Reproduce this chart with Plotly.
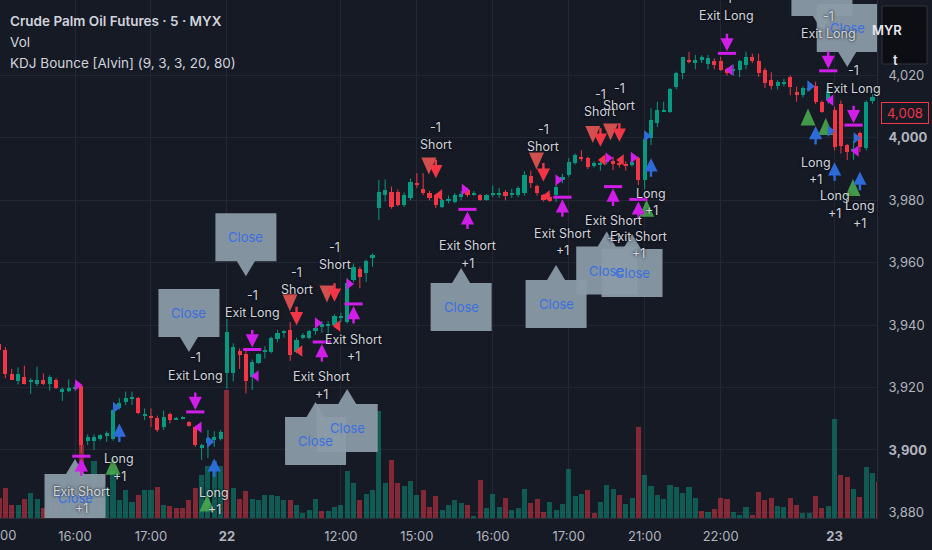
import plotly.graph_objects as go

# ---------------- data ----------------
opens = [3934, 3932, 3924.5, 3922, 3923.5, 3922, 3921, 3922.5, 3921, 3922.5,
         3918.7, 3918.8, 3919.8, 3920.5, 3903, 3903, 3903.5, 3904.5, 3903.5, 3913.5,
         3915.5, 3916.5, 3916.5, 3911, 3911, 3910.4, 3907.4, 3911.4, 3909.8, 3910,
         3909, 3907.4, 3900.6, 3902.1, 3903.5, 3903.4, 3924.6, 3924.6, 3931.7, 3930.7,
         3923.5, 3927.8, 3931.5, 3931.5, 3935.5, 3937.5, 3938.4, 3931.5, 3935.8, 3935.8,
         3938, 3939.5, 3940, 3940, 3942.5, 3941.1, 3954.5, 3957.9, 3956.6, 3961.4,
         3977.4, 3981.7, 3982.8, 3982.8, 3978.5, 3980.6, 3985.5, 3983.5, 3982.4, 3981.7,
         3978, 3980, 3979.6, 3981, 3983.3, 3981.8, 3981.7, 3980, 3981.8, 3981.8,
         3982.8, 3981.8, 3981.7, 3982.2, 3987.8, 3984.6, 3981.7, 3981, 3981.7, 3986.5,
         3988.1, 3991.9, 3994, 3993.5, 3991, 3991.5, 3992.3, 3992.5, 3992, 3991.8,
         3991.3, 3993.5, 3986.5, 4000, 4004.7, 4008.6, 4008.4, 4016.4, 4020.7, 4025,
         4024, 4025, 4023.7, 4024.8, 4024.7, 4022, 4021.5, 4021.8, 4023.4, 4025.8,
         4024.7, 4021.8, 4018.6, 4016.6, 4017.5, 4019.6, 4014.8, 4013.7, 4015.5, 4016.6,
         4011.6, 4012, 4009, 4011, 3997.7, 3996, 4001.5, 3996.7, 4011.9, 4013.2]
highs = [3935, 3933, 3926, 3926.5, 3927, 3923, 3926.7, 3924.5, 3924, 3923,
         3920, 3922.6, 3921, 3921, 3905, 3905, 3905, 3906, 3913, 3916.6,
         3918.7, 3918.7, 3917, 3913.3, 3913.3, 3911, 3912.6, 3912, 3910.6, 3910.8,
         3909.2, 3907.8, 3902, 3906.4, 3906, 3906.4, 3942, 3934.2, 3932.5, 3932,
         3929, 3931, 3933.2, 3936.3, 3938.5, 3938.5, 3941, 3936, 3937.5, 3938.5,
         3940, 3941.3, 3941.3, 3943.5, 3944, 3955, 3959.8, 3958.7, 3961, 3963,
         3986.5, 3986.7, 3984.4, 3983.5, 3982.5, 3987, 3988.7, 3988.7, 3983, 3982,
         3980.5, 3981.5, 3982.3, 3983, 3984, 3983, 3982, 3982, 3984.7, 3984,
         3983.3, 3983.7, 3984.5, 3989.3, 3989.5, 3985, 3982, 3982, 3985, 3988.5,
         3993.5, 3995, 3996, 3994, 3992.5, 3993, 3994, 3994, 3993, 3992.5,
         3993, 3994, 4000.5, 4009.5, 4011.6, 4011.6, 4016, 4021.2, 4026, 4027.6,
         4026.6, 4026.5, 4026.6, 4025.5, 4026, 4022.5, 4023.5, 4025, 4027.6, 4027,
         4027, 4022.5, 4021, 4018.5, 4019, 4020, 4016.4, 4016.5, 4017, 4018,
         4012, 4017, 4010, 4012, 3998, 3999, 4002, 4012, 4014, 4013.5]
lows = [3931, 3923, 3922.5, 3921, 3921, 3918, 3920.5, 3920.8, 3919, 3919.5,
        3915.7, 3918.5, 3919, 3899, 3901.6, 3900, 3903, 3902.6, 3903, 3913,
        3914.4, 3914.4, 3911.5, 3909.6, 3907.4, 3905.8, 3906.4, 3908.5, 3909.6, 3909.8,
        3907.5, 3901, 3896.8, 3897.4, 3901, 3903, 3919.7, 3922, 3926, 3918.1,
        3919.2, 3927.5, 3929.3, 3931, 3934.5, 3936, 3928.5, 3931, 3935.5, 3935.5,
        3937, 3937.6, 3936.5, 3939.5, 3941, 3940.5, 3953.9, 3951.8, 3953.9, 3958.7,
        3973.7, 3979.6, 3977.3, 3978, 3977.9, 3980, 3984, 3981.7, 3980, 3977.5,
        3977.5, 3979, 3979, 3980, 3981, 3981.5, 3979.8, 3979.8, 3981, 3980.8,
        3980, 3980.8, 3981, 3981.5, 3984, 3981.5, 3979.6, 3979.5, 3979.5, 3985.5,
        3987.5, 3991.5, 3992.5, 3990, 3990.5, 3989.5, 3991.5, 3989.7, 3990.5, 3989.5,
        3990.8, 3984.9, 3983.5, 3997.7, 4003.5, 4008.3, 4008, 4015.6, 4018.8, 4023.9,
        4022, 4024, 4022, 4022, 4021.5, 4020, 4020, 4019.5, 4022, 4024,
        4019.6, 4016, 4015.5, 4015.5, 4016.5, 4013.7, 4011.6, 4013, 4015, 4010.8,
        4008, 4011, 3996, 3995, 3992.9, 3993, 3995.5, 3996, 4011, 4007]
closes = [3932, 3924.5, 3922.5, 3924.5, 3921, 3922.5, 3922.5, 3921, 3923.5, 3919.8,
          3919.7, 3919.8, 3920, 3901.5, 3904, 3904, 3904.7, 3905.5, 3912.8, 3915,
          3916.5, 3917, 3911.7, 3911.5, 3910.4, 3906.4, 3910.6, 3909.6, 3910.4, 3910.5,
          3907.7, 3901.6, 3901.5, 3903.7, 3904, 3905.8, 3937.9, 3933.1, 3930.4, 3922,
          3928.3, 3930.7, 3932, 3936, 3937.6, 3938, 3930.4, 3935.4, 3936.8, 3938,
          3939, 3940.3, 3940.5, 3942.9, 3943, 3953.4, 3958.7, 3955.5, 3960.6, 3962.5,
          3982.8, 3983.3, 3977.9, 3978.5, 3981.7, 3986, 3985, 3982.2, 3980.6, 3978.5,
          3980, 3980.5, 3981.7, 3982, 3981.7, 3982.3, 3980, 3981.7, 3982.5, 3982.3,
          3981.4, 3982.3, 3983.8, 3988.1, 3985.4, 3982.2, 3980, 3979.8, 3984.4, 3987.6,
          3992.4, 3994.5, 3993.5, 3990.6, 3991.9, 3992, 3992.8, 3991.5, 3991.3, 3991,
          3992.3, 3986.5, 3999.5, 4005.7, 4008.9, 4009, 4015.6, 4020.9, 4025.8, 4024.5,
          4025, 4025.8, 4025.5, 4023.5, 4021.8, 4020.7, 4022, 4024.7, 4025.8, 4024.7,
          4020.7, 4017.5, 4016.6, 4018, 4018, 4016.4, 4013.7, 4015.9, 4016, 4011.6,
          4008.4, 4015, 3997, 3997.5, 3995.6, 3996.5, 3997.2, 4011.6, 4013.2, 4008]
volumes = [200, 300, 130, 130, 190, 250, 190, 100, 200, 150,
           380, 220, 150, 730, 350, 570, 250, 300, 470, 180,
           280, 160, 230, 280, 280, 310, 130, 120, 100, 100,
           180, 300, 430, 520, 570, 520, 1280, 300, 190, 270,
           190, 180, 230, 230, 220, 180, 180, 130, 50, 80,
           190, 70, 70, 110, 130, 470, 350, 180, 240, 280,
           1070, 350, 580, 350, 320, 370, 230, 280, 110, 220,
           80, 130, 180, 150, 130, 20, 380, 100, 240, 110,
           200, 80, 100, 290, 150, 190, 60, 160, 80, 140,
           490, 220, 240, 280, 50, 160, 330, 290, 230, 140,
           200, 910, 430, 320, 230, 190, 330, 310, 250, 310,
           200, 70, 60, 90, 200, 190, 60, 30, 110, 30,
           260, 180, 200, 120, 110, 200, 130, 50, 50, 220,
           100, 120, 990, 430, 410, 290, 210, 510, 450, 360]
vol_up = [0, 0, 0, 1, 0, 1, 1, 0, 1, 0,
          1, 1, 1, 0, 1, 1, 1, 1, 1, 1,
          1, 1, 0, 1, 1, 0, 1, 0, 0, 0,
          0, 0, 1, 1, 1, 1, 0, 1, 0, 0,
          1, 1, 1, 1, 1, 1, 0, 1, 1, 1,
          1, 0, 1, 1, 1, 1, 1, 0, 1, 1,
          1, 1, 0, 0, 1, 1, 1, 0, 0, 0,
          1, 1, 1, 1, 0, 1, 0, 1, 1, 1,
          0, 1, 1, 1, 0, 0, 0, 1, 1, 1,
          1, 1, 1, 0, 0, 1, 1, 1, 0, 1,
          1, 0, 1, 1, 1, 1, 1, 1, 1, 1,
          1, 0, 1, 0, 0, 0, 1, 1, 1, 0,
          0, 0, 0, 1, 1, 0, 0, 1, 1, 0,
          0, 1, 1, 0, 0, 1, 0, 1, 1, 0]
bars = list(range(len(opens)))

time_tick_bars = [12, 24, 36, 54, 66, 78, 90, 102, 114, 132]
time_tick_labels = ["16:00", "17:00", "<b>22</b>", "12:00", "15:00", "16:00",
                    "17:00", "21:00", "22:00", "<b>23</b>"]
first_time_label = "15:00"   # time of bar 0, only partly visible
price_ticks = [3880, 3900, 3920, 3940, 3960, 3980, 4000, 4020]
price_labels = ["3,880", "<b>3,900</b>", "3,920", "3,940", "3,960", "3,980",
                "<b>4,000</b>", "4,020"]
last_price = 4008

# strategy orders
long_bars = [19, 34, 103, 129, 132, 136]
long_prices = [3908.5, 3897.3, 3993.5, 4003.8, 3992.2, 3989.2]
short_bars = [47, 53, 69, 86, 95, 98]
short_prices = [3940.0, 3947.5, 3987.1, 3986.0, 3997.2, 3998.8]
exit_short_bars = [13, 51, 56, 74, 89, 97, 101]
exit_short_prices = [3898.0, 3934.6, 3946.8, 3977.1, 3981.0, 3984.4, 3980.3]
exit_long_bars = [31, 40, 115, 131, 135]
exit_long_prices = [3912.2, 3932.2, 4027.1, 4021.5, 4004.1]

# order texts
label_bars = [13, 19, 34, 31, 40, 47, 53, 51, 56, 69, 74, 86, 89, 95, 98, 97,
              101, 103, 115, 131, 135, 129, 132, 136]
label_prices = [3883.9, 3894.4, 3883.6, 3926.7, 3946.8, 3954.1, 3962.1, 3920.6,
                3932.7, 4000.6, 3962.6, 4000.0, 3966.6, 4011.2, 4013.1, 3970.6,
                3965.7, 3979.5, 4042.0, 4036.2, 4018.7, 3989.4, 3978.7, 3975.4]
label_line1 = ["Exit Short", "Long", "Long", "-1", "-1", "-1", "-1", "Exit Short",
               "Exit Short", "-1", "Exit Short", "-1", "Exit Short", "-1", "-1",
               "Exit Short", "Exit Short", "Long", "-1", "-1", "-1", "Long", "Long", "Long"]
label_line2 = ["+1", "+1", "+1", "Exit Long", "Exit Long", "Short", "Short", "+1",
               "+1", "Short", "+1", "Short", "+1", "Short", "Short",
               "+1", "+1", "+1", "Exit Long", "Exit Long", "Exit Long", "+1", "+1", "+1"]

# "Close" labels from the indicator
close_bars = [12, 30, 39, 50, 55, 73, 88, 96, 100, 130, 134]
close_prices = [3897.1, 3931.4, 3955.7, 3915.4, 3919.5, 3958.3, 3959.3, 3970.0,
                3969.2, 4034.3, 4022.7]
close_below = [True, False, False, True, True, True, True, True, True, False, False]

# indicator shapes
sig_short_bars = [45.96, 51.8, 67.9, 84.9, 93.8, 96.6]
sig_short_prices = [3947.2, 3950.0, 3991.0, 3992.6, 4001.1, 4001.9]
sig_long_bars = [18.0, 32.85, 102.3, 127.8, 130.6, 134.9]
sig_long_prices = [3894.8, 3883.0, 3977.5, 4006.7, 4003.7, 3984.1]
mag_right_bars = [12.4, 50.3, 55.3, 73.5, 88.3, 96.2, 100.2]
mag_right_prices = [3920.8, 3940.7, 3953.2, 3983.5, 3986.5, 3993.6, 3993.7]
mag_left_bars = [31.6, 40.6, 115.5, 131.4, 135.4]
mag_left_prices = [3907.3, 3923.7, 4021.8, 4012.1, 3995.8]
red_left_bars = [47.5, 53.5, 69.6, 86.6, 95.4, 98.3]
red_left_prices = [3931.7, 3939.7, 3981.7, 3981.4, 3992.9, 3992.9]
blue_right_bars = [18.4, 33.25, 102.3, 128.1, 131.3, 135.4]
blue_right_prices = [3913.6, 3902.6, 4000.6, 4016.6, 4002.2, 4000.0]

# ---------------- styling ----------------
BG = "#161a25"
GRID = "#232734"
AXIS = "#2a2e39"
TXT = "#d1d4dc"
AXTXT = "#b2b5be"
UP = "#089981"
DN = "#f23645"
MAG = "#d01ee8"
BLUE = "#2f6bd8"
FONT = "Inter, Roboto, sans-serif"

W_PLOT, H_PLOT = 877, 518
X_RANGE = [0.15, 138.7]
Y_RANGE = [3878.2, 4044.2]
VOL_RANGE = [0, 5180]
sx = (X_RANGE[1] - X_RANGE[0]) / W_PLOT
sy = (Y_RANGE[1] - Y_RANGE[0]) / H_PLOT

fig = go.Figure()

# volume (bottom layer)
fig.add_trace(go.Bar(
    x=bars, y=volumes, width=0.8, yaxis="y",
    marker=dict(color=["rgba(8,153,129,0.5)" if u else "rgba(242,54,69,0.5)" for u in vol_up],
                line=dict(width=0)),
    hoverinfo="skip"))

# candles: wicks
for up, col in ((True, UP), (False, DN)):
    wx, wy = [], []
    for i, o, h, l, c in zip(bars, opens, highs, lows, closes):
        if (c >= o) == up:
            wx += [i, i, None]
            wy += [l, h, None]
    fig.add_trace(go.Scatter(x=wx, y=wy, mode="lines", yaxis="y2",
                             line=dict(color=col, width=1), hoverinfo="skip"))

# candles: bodies
fig.add_trace(go.Bar(
    x=bars, base=[min(o, c) for o, c in zip(opens, closes)],
    y=[max(abs(c - o), 0.45) for o, c in zip(opens, closes)],
    width=0.66, yaxis="y2",
    marker=dict(color=[UP if c >= o else DN for o, c in zip(opens, closes)], line=dict(width=0)),
    hoverinfo="skip"))


def tri_polys(bs, ps, up):
    xs, ys = [], []
    hw, hh = 7.5 * sx, 8.5 * sy
    for b, p in zip(bs, ps):
        if up:
            xs += [b - hw, b + hw, b, b - hw, None]
            ys += [p - hh, p - hh, p + hh, p - hh, None]
        else:
            xs += [b - hw, b + hw, b, b - hw, None]
            ys += [p + hh, p + hh, p - hh, p + hh, None]
    return xs, ys


tx, ty = tri_polys(sig_short_bars, sig_short_prices, False)
fig.add_trace(go.Scatter(x=tx, y=ty, mode="lines", fill="toself", yaxis="y2",
                         fillcolor="rgba(242,90,85,0.85)", line=dict(width=0), hoverinfo="skip"))
tx, ty = tri_polys(sig_long_bars, sig_long_prices, True)
fig.add_trace(go.Scatter(x=tx, y=ty, mode="lines", fill="toself", yaxis="y2",
                         fillcolor="rgba(76,175,80,0.85)", line=dict(width=0), hoverinfo="skip"))

for bs, ps, sym, col in ((mag_right_bars, mag_right_prices, "triangle-right", MAG),
                         (mag_left_bars, mag_left_prices, "triangle-left", MAG),
                         (red_left_bars, red_left_prices, "triangle-left", DN),
                         (blue_right_bars, blue_right_prices, "triangle-right", BLUE)):
    fig.add_trace(go.Scatter(x=bs, y=ps, mode="markers", yaxis="y2",
                             marker=dict(symbol=sym, size=10, color=col, line=dict(width=0)),
                             hoverinfo="skip"))

# exit bars (the flat caps of exit arrows)
fig.add_trace(go.Scatter(x=exit_short_bars + exit_long_bars,
                         y=exit_short_prices + exit_long_prices, mode="markers", yaxis="y2",
                         marker=dict(symbol="line-ew", size=13, line=dict(color=MAG, width=3)),
                         hoverinfo="skip"))

shapes = []
annotations = []

# Close labels
for b, p, below in zip(close_bars, close_prices, close_below):
    hw, pw, ph, bh = 30.5 * sx, 9 * sx, 15 * sy, 48 * sy
    if below:
        top = p - ph
        bot = top - bh
        pts = [(b, p), (b + pw, top), (b + hw, top), (b + hw, bot), (b - hw, bot),
               (b - hw, top), (b - pw, top)]
    else:
        bot = p + ph
        top = bot + bh
        pts = [(b, p), (b + pw, bot), (b + hw, bot), (b + hw, top), (b - hw, top),
               (b - hw, bot), (b - pw, bot)]
    path = "M " + " L ".join(f"{x:.4f},{y:.4f}" for x, y in pts) + " Z"
    shapes.append(dict(type="path", path=path, xref="x", yref="y2", layer="above",
                       fillcolor="rgba(138,154,167,0.95)", line=dict(width=0)))
    annotations.append(dict(x=b, y=(top + bot) / 2, xref="x", yref="y2", text="Close",
                            showarrow=False, font=dict(family=FONT, size=13, color="#3a6fe0")))

# strategy arrows
ARR = 20
for b, p in zip(long_bars, long_prices):
    annotations.append(dict(x=b, y=p, xref="x", yref="y2", ax=0, ay=ARR, text="",
                            showarrow=True, arrowhead=2, arrowsize=1.1, arrowwidth=2.4,
                            arrowcolor=BLUE))
for b, p in zip(short_bars, short_prices):
    annotations.append(dict(x=b, y=p, xref="x", yref="y2", ax=0, ay=-ARR, text="",
                            showarrow=True, arrowhead=2, arrowsize=1.1, arrowwidth=2.4,
                            arrowcolor=DN))
for b, p in zip(exit_short_bars, exit_short_prices):
    annotations.append(dict(x=b, y=p - 2 * sy, xref="x", yref="y2", ax=0, ay=ARR - 1, text="",
                            showarrow=True, arrowhead=2, arrowsize=1.1, arrowwidth=2.4,
                            arrowcolor=MAG))
for b, p in zip(exit_long_bars, exit_long_prices):
    annotations.append(dict(x=b, y=p + 2 * sy, xref="x", yref="y2", ax=0, ay=-(ARR - 1), text="",
                            showarrow=True, arrowhead=2, arrowsize=1.1, arrowwidth=2.4,
                            arrowcolor=MAG))

# order texts
lab_font = dict(family=FONT, size=12.5, color=TXT, shadow="0px 0px 3px #000000")
for b, p, t1, t2 in zip(label_bars, label_prices, label_line1, label_line2):
    annotations.append(dict(x=b, y=p, xref="x", yref="y2", text=t1, showarrow=False,
                            yshift=8.75, font=lab_font))
    annotations.append(dict(x=b, y=p, xref="x", yref="y2", text=t2, showarrow=False,
                            yshift=-8.75, font=lab_font))

# legend texts (top-left)
leg = [("Crude Palm Oil Futures · 5 · MYX", 20.7, 600),
       ("Vol", 41.7, 400),
       ("KDJ Bounce [Alvin] (9, 3, 3, 20, 80)", 63.0, 400)]
for t, ypx, wt in leg:
    annotations.append(dict(x=8 / W_PLOT, y=1 - ypx / H_PLOT, xref="paper", yref="paper",
                            xanchor="left", yanchor="middle", text=t, showarrow=False,
                            font=dict(family=FONT, size=13.5, color=TXT, weight=wt)))

# partially visible time label of bar 0 (outside the axis range, so placed in paper units)
annotations.append(dict(x=(bars[0] - X_RANGE[0]) / sx / W_PLOT, y=-17 / H_PLOT,
                        xref="paper", yref="paper", text=first_time_label,
                        showarrow=False, yanchor="middle", xanchor="center",
                        font=dict(family=FONT, size=13, color=AXTXT)))

# last price label
annotations.append(dict(x=1.0, y=last_price, xref="paper", yref="y2", xanchor="left",
                        xshift=4, text=f"{last_price:,}", showarrow=False,
                        font=dict(family=FONT, size=13, color=DN), bgcolor=BG,
                        bordercolor=DN, borderwidth=1, borderpad=2, width=42))

# currency / unit box
shapes.append(dict(type="rect", xref="paper", yref="paper",
                   x0=(W_PLOT + 5) / W_PLOT, x1=(W_PLOT + 50) / W_PLOT,
                   y0=1 - 64 / H_PLOT, y1=1 - 6 / H_PLOT, layer="above",
                   fillcolor="#0c0e13", line=dict(color="#2f333e", width=1)))
annotations.append(dict(x=(W_PLOT + 27) / W_PLOT, y=1 - 20.5 / H_PLOT, xref="paper", yref="paper",
                        text="MYR", showarrow=False,
                        font=dict(family=FONT, size=13, color="#e6e8ee", weight=600)))
annotations.append(dict(x=(W_PLOT + 14) / W_PLOT, y=1 - 50 / H_PLOT, xref="paper", yref="paper",
                        text="t", showarrow=False, xanchor="left",
                        font=dict(family=FONT, size=13, color="#e6e8ee", weight=600)))

fig.update_layout(
    width=932, height=550,
    margin=dict(l=0, r=55, t=0, b=32),
    paper_bgcolor=BG, plot_bgcolor=BG,
    showlegend=False, barmode="overlay", bargap=0,
    xaxis=dict(range=X_RANGE, tickvals=time_tick_bars, ticktext=time_tick_labels,
               showgrid=True, gridcolor=GRID, gridwidth=1, zeroline=False,
               showline=True, linecolor=AXIS, ticks="", ticklabelstandoff=6,
               tickfont=dict(family=FONT, size=13, color=AXTXT), fixedrange=True),
    yaxis=dict(range=VOL_RANGE, visible=False, fixedrange=True),
    yaxis2=dict(overlaying="y", side="right", range=Y_RANGE, tickvals=price_ticks,
                ticktext=price_labels, showgrid=True, gridcolor=GRID, gridwidth=1,
                zeroline=False, showline=True, linecolor=AXIS, ticks="",
                ticklabelstandoff=8, tickfont=dict(family=FONT, size=13, color=AXTXT),
                fixedrange=True),
    shapes=shapes,
    annotations=annotations,
    hovermode=False,
)

fig.write_html("out.html", config={"displayModeBar": False},
               post_script="document.body.style.margin='0';document.body.style.overflow='hidden';")
